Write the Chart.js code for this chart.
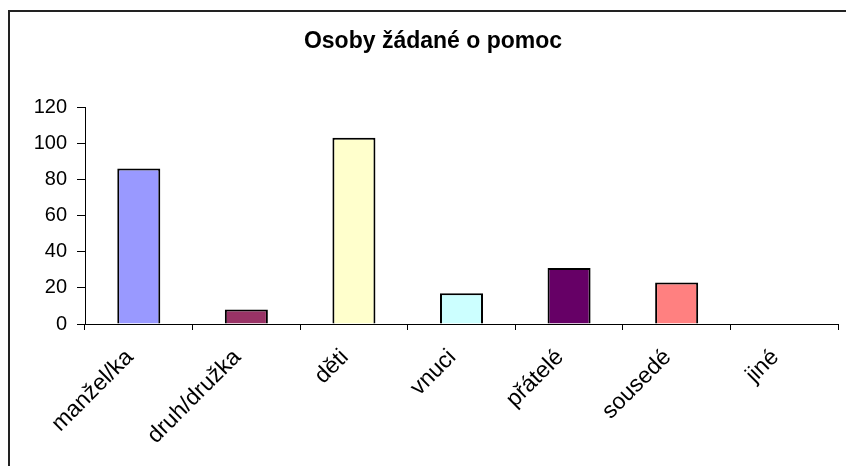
<!DOCTYPE html>
<html>
<head>
<meta charset="utf-8">
<script src="https://cdn.jsdelivr.net/npm/chart.js@4/dist/chart.umd.min.js"></script>
<style>
  body { margin: 0; background: #fff; }
  canvas { display: block; }
</style>
</head>
<body>
<canvas id="helpChart" width="846" height="466"></canvas>
<script>
  // data
  const categories = ["manžel/ka", "druh/družka", "děti", "vnuci", "přátelé", "sousedé", "jiné"];
  const counts = [86, 8, 103, 17, 31, 23, 0];
  const barColors = ["#9999FF", "#993366", "#FFFFCC", "#CCFFFF", "#660066", "#FF8080", "#0066CC"];
  const yTicks = [0, 20, 40, 60, 80, 100, 120];
  const chartTitle = "Osoby žádané o pomoc";

  // frame round the chart (left and top edges are visible, rest is cropped)
  // + the title, centred on the whole (cropped) frame like in the original
  const framePlugin = {
    id: "frame",
    beforeDraw(chart) {
      const ctx = chart.ctx;
      ctx.save();
      ctx.fillStyle = "#fff";
      ctx.fillRect(0, 0, chart.width, chart.height);
      ctx.strokeStyle = "#222";
      ctx.lineWidth = 2;
      ctx.beginPath();
      ctx.moveTo(9, chart.height);
      ctx.lineTo(9, 11);
      ctx.lineTo(chart.width, 11);
      ctx.stroke();

      ctx.fillStyle = "#000";
      ctx.font = "bold 23px 'Liberation Sans', Arial, sans-serif";
      ctx.textAlign = "center";
      ctx.textBaseline = "alphabetic";
      ctx.fillText(chartTitle, 433, 48);
      ctx.restore();
    }
  };

  Chart.defaults.font.family = "'Liberation Sans', Arial, sans-serif";
  Chart.defaults.color = "#000";

  const ctx = document.getElementById("helpChart").getContext("2d");
  new Chart(ctx, {
    type: "bar",
    data: {
      labels: categories,
      datasets: [{
        data: counts,
        backgroundColor: barColors,
        borderColor: "#000",
        borderWidth: 2,
        barPercentage: 0.4,
        categoryPercentage: 1
      }]
    },
    options: {
      responsive: false,
      devicePixelRatio: 1,
      animation: false,
      layout: { padding: { left: 0, right: 8, top: 107, bottom: 0 } },
      plugins: {
        legend: { display: false },
        tooltip: { enabled: false },
        title: { display: false }
      },
      scales: {
        x: {
          offset: true,
          border: { display: true, color: "#000", width: 1 },
          grid: { display: true, offset: true, drawOnChartArea: false, color: "#000", tickLength: 6 },
          ticks: { minRotation: 45, maxRotation: 45, padding: 14, labelOffset: -9, font: { size: 23 } },
          afterFit(scale) { scale.height = 142; }
        },
        y: {
          min: 0,
          max: 120,
          afterBuildTicks(scale) { scale.ticks = yTicks.map(v => ({ value: v })); },
          border: { display: true, color: "#000", width: 1 },
          grid: { display: true, drawOnChartArea: false, color: "#000", tickLength: 8 },
          ticks: { padding: 10, font: { size: 20 } },
          afterFit(scale) { scale.width = 85; }
        }
      }
    },
    plugins: [framePlugin]
  });
</script>
</body>
</html>
